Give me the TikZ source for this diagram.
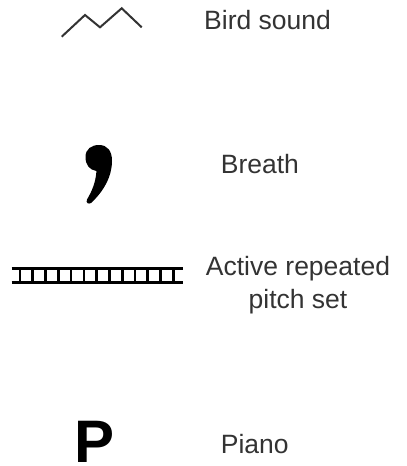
\documentclass[tikz,border=0pt]{standalone}
\usepackage{fontspec}
\setmainfont{Liberation Sans}
\definecolor{txt}{HTML}{333333}
\begin{document}
\begin{tikzpicture}[x=1pt,y=-1pt,
  label/.style={inner sep=0pt, text=txt, font=\fontsize{26.5}{33}\selectfont},
  rail/.style={line width=3.3pt, black},
  rung/.style={line width=2.7pt, black},
  bird/.style={line width=2pt, txt, line join=miter}]
\useasboundingbox (0,0) rectangle (407,466);
% Bird sound
\coordinate (b1) at (61.7,36.7);
\coordinate (b2) at (85,15);
\coordinate (b3) at (100,27.3);
\coordinate (b4) at (121.7,8.3);
\coordinate (b5) at (141.7,27.3);
\draw[bird] (b1) -- (b2) -- (b3) -- (b4) -- (b5);
\node[label, anchor=base west] (birdtxt) at (204,29) {Bird sound};
% Breath
\fill[black] (85.5,157) .. controls (85.5,149) and (91.5,145) .. (99,145)
  .. controls (107.5,145) and (112,151) .. (112,161)
  .. controls (112,177) and (103,192) .. (91,203)
  .. controls (88.5,204.5) and (85.5,203) .. (87,199.5)
  .. controls (92,191) and (95.5,183) .. (96.5,171)
  .. controls (89.5,170) and (85.5,165) .. (85.5,157) -- cycle;
\node[label, anchor=base west] (breathtxt) at (220.7,173.3) {Breath};
% Ladder
\coordinate (rl1) at (11.7,268.5);
\coordinate (rr1) at (182.7,268.5);
\coordinate (rl2) at (11.7,282.7);
\coordinate (rr2) at (182.7,282.7);
\draw[rail] (rl1) -- (rr1);
\draw[rail] (rl2) -- (rr2);
\foreach \i in {0,...,12} {
  \draw[rung] ({20+\i*12.78},268.5) -- ({20+\i*12.78},282.7);
}
\node[label, anchor=base, align=center] (activetxt) at (298,308) {Active repeated\\pitch set};
% Piano
\node[inner sep=0pt, anchor=base west, font=\fontsize{60}{60}\selectfont\bfseries] (pmark) at (74,462) {P};
\node[label, anchor=base west] (pianotxt) at (220.7,453.3) {Piano};
\end{tikzpicture}
\end{document}
